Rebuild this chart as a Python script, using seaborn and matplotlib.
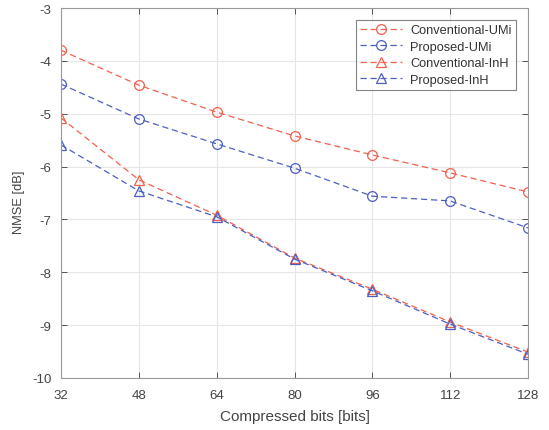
import numpy as np
import pandas as pd
import matplotlib
matplotlib.use("Agg")
import matplotlib.pyplot as plt
import seaborn as sns

bits = [32, 48, 64, 80, 96, 112, 128]
conv_umi = [-3.80, -4.46, -4.97, -5.42, -5.78, -6.12, -6.48]
prop_umi = [-4.44, -5.10, -5.57, -6.03, -6.56, -6.65, -7.16]
conv_inh = [-5.08, -6.25, -6.92, -7.73, -8.32, -8.94, -9.51]
prop_inh = [-5.59, -6.46, -6.95, -7.75, -8.35, -8.98, -9.55]
series_names = ["Conventional-UMi", "Proposed-UMi", "Conventional-InH", "Proposed-InH"]

sns.set_style("white")
plt.rcParams['font.family'] = ['Liberation Sans', 'DejaVu Sans']
plt.rcParams['axes.unicode_minus'] = False

red = '#f2604e'
blue = '#4d5fc0'
styles = {
    "Conventional-UMi": (red, 'o'),
    "Proposed-UMi": (blue, 'o'),
    "Conventional-InH": (red, '^'),
    "Proposed-InH": (blue, '^'),
}

fig = plt.figure(figsize=(5.49, 4.31), dpi=100)
ax = fig.add_axes([61/549, 1-379/431, (528-61)/549, (379-9)/431])

for name, vals in zip(series_names, [conv_umi, prop_umi, conv_inh, prop_inh]):
    c, m = styles[name]
    df = pd.DataFrame({"bits": bits, "nmse": vals})
    sns.lineplot(data=df, x="bits", y="nmse", ax=ax, color=c, linestyle=(0, (5, 3)),
                 linewidth=0.9, marker=m, markersize=7, markerfacecolor='none',
                 markeredgecolor=c, markeredgewidth=0.9, label=name)

ax.set_xlim(32, 128)
ax.set_ylim(-10, -3)
ax.set_xticks(bits)
ax.set_yticks(np.arange(-10, -2, 1))
ax.grid(True, color='#e6e6e6', linewidth=0.8)
for s in ax.spines.values():
    s.set_color('#999999')
    s.set_linewidth(0.8)
ax.tick_params(axis='both', labelsize=9.5, colors='#555555', direction='in', length=4,
               width=0.7, top=True, right=True, bottom=True, left=True)
ax.tick_params(axis='x', pad=8, labelcolor='#444444')
ax.tick_params(axis='y', pad=7, labelcolor='#444444')
ax.set_xlabel("Compressed bits [bits]", fontsize=11, color='#444444', labelpad=6)
ax.set_ylabel("NMSE [dB]", fontsize=9.3, color='#444444')
ax.yaxis.set_label_coords(-0.077, 0.478)

leg = ax.legend(loc='upper right', fontsize=9.2, frameon=True, fancybox=False,
                edgecolor='#666666', handlelength=3.3, borderpad=0.35,
                labelspacing=0.35, handletextpad=0.6, borderaxespad=0,
                bbox_to_anchor=(0.974, 0.968))
leg.get_frame().set_linewidth(0.8)
for t in leg.get_texts():
    t.set_color('#333333')

fig.savefig("out.png", dpi=100)
